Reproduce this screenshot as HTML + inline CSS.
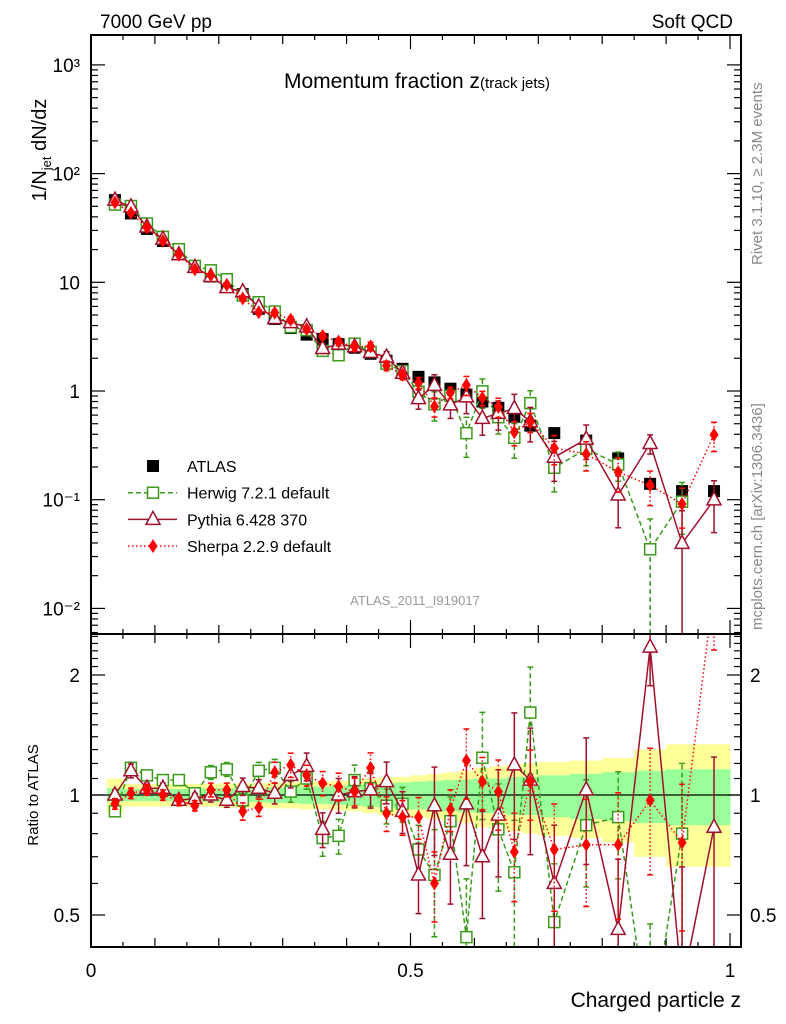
<!DOCTYPE html>
<html><head><meta charset="utf-8">
<style>
html,body{margin:0;padding:0;background:#fff;width:786px;height:1024px;overflow:hidden;}
svg{display:block;font-family:"Liberation Sans",sans-serif;}
</style></head>
<body>
<svg id="chart" width="786" height="1024" xmlns="http://www.w3.org/2000/svg">
  <text x="100" y="28" font-size="19">7000 GeV pp</text>
  <text x="733" y="28" font-size="19" text-anchor="end">Soft QCD</text>
  <text x="417" y="88" font-size="21" text-anchor="middle">Momentum fraction z<tspan font-size="15">(track jets)</tspan></text>
  <text x="415" y="605" font-size="13" fill="#999" text-anchor="middle">ATLAS_2011_I919017</text>
  <text transform="translate(46,150) rotate(-90)" font-size="20" text-anchor="middle">1/N<tspan font-size="13" dy="5">jet</tspan><tspan dy="-5"> dN/dz</tspan></text>
  <text transform="translate(38,795) rotate(-90)" font-size="15" text-anchor="middle">Ratio to ATLAS</text>
  <text x="741" y="1007" font-size="21" text-anchor="end">Charged particle z</text>
  <text transform="translate(762,265) rotate(-90)" font-size="15" fill="#888">Rivet 3.1.10, ≥ 2.3M events</text>
  <text transform="translate(762,630) rotate(-90)" font-size="15" fill="#888">mcplots.cern.ch [arXiv:1306.3436]</text>
  <g id="main"></g>
  <g id="ratio"></g>
  <g id="legend"></g>
</svg>
<script>
const binLo = [0.025,0.05,0.075,0.1,0.125,0.15,0.175,0.2,0.225,0.25,0.275,0.3,0.325,0.35,0.375,0.4,0.425,0.45,0.475,0.5,0.525,0.55,0.575,0.6,0.625,0.65,0.675,0.7,0.75,0.8,0.85,0.9,0.95];
const binHi = [0.05,0.075,0.1,0.125,0.15,0.175,0.2,0.225,0.25,0.275,0.3,0.325,0.35,0.375,0.4,0.425,0.45,0.475,0.5,0.525,0.55,0.575,0.6,0.625,0.65,0.675,0.7,0.75,0.8,0.85,0.9,0.95,1.0];
const atlas = [57,43,31,24,18.5,14,11.3,9.2,7.8,5.7,4.6,3.8,3.3,3.0,2.7,2.5,2.2,1.9,1.6,1.35,1.2,1.05,0.93,0.8,0.7,0.58,0.48,0.41,0.35,0.24,0.14,0.12,0.12];
const herwigRatio = [0.91,1.17,1.12,1.09,1.09,1.01,1.14,1.16,0.97,1.15,1.17,1.02,1.10,0.78,0.79,1.09,1.04,0.94,0.95,0.73,0.63,0.86,0.44,1.24,0.82,0.64,1.61,0.48,0.84,0.88,0.25,0.80,null];
const pythiaRatio = [1.0,1.15,1.04,1.04,0.97,0.98,1.0,0.97,1.05,1.04,1.01,1.12,1.18,0.82,1.0,1.02,1.03,1.08,0.91,0.63,0.94,0.71,0.95,0.70,0.89,1.19,1.09,0.60,1.03,0.46,2.35,0.33,0.83];
const sherpaRatio = [0.95,1.01,1.03,1.0,0.97,0.94,1.03,1.03,0.91,0.93,1.14,1.19,1.12,1.07,1.05,1.02,1.17,0.90,0.88,0.88,0.60,0.92,1.22,1.08,1.02,0.72,1.08,0.73,0.75,0.75,0.97,0.76,3.3];
const herwigErr = [0.03,0.03,0.03,0.03,0.03,0.03,0.04,0.04,0.04,0.05,0.05,0.06,0.06,0.1,0.1,0.09,0.1,0.1,0.1,0.15,0.3,0.15,0.4,0.3,0.3,0.35,0.3,0.4,0.3,0.3,0.9,0.5,0];
const pythiaErr = [0.03,0.04,0.03,0.03,0.03,0.03,0.04,0.04,0.05,0.05,0.06,0.07,0.08,0.1,0.1,0.09,0.1,0.12,0.12,0.2,0.25,0.25,0.3,0.3,0.3,0.35,0.35,0.4,0.35,0.5,0.2,1.0,0.5];
const sherpaErr = [0.03,0.03,0.03,0.03,0.03,0.03,0.04,0.04,0.05,0.05,0.06,0.07,0.06,0.07,0.08,0.08,0.09,0.1,0.1,0.12,0.2,0.12,0.2,0.15,0.2,0.25,0.2,0.3,0.3,0.35,0.35,0.4,0.3];
const bandGreen = [0.04,0.035,0.035,0.035,0.035,0.035,0.04,0.04,0.04,0.04,0.045,0.045,0.05,0.05,0.055,0.06,0.065,0.07,0.075,0.08,0.085,0.09,0.095,0.1,0.1,0.11,0.11,0.12,0.13,0.14,0.15,0.16,0.16];
const bandYellow = [0.1,0.065,0.065,0.065,0.065,0.065,0.065,0.07,0.07,0.07,0.075,0.075,0.08,0.08,0.085,0.09,0.1,0.11,0.11,0.12,0.13,0.14,0.15,0.17,0.18,0.19,0.2,0.21,0.22,0.24,0.3,0.34,0.34];
const mainTickLabels = ["10⁻²","10⁻¹","1","10","10²","10³"];
const mainTickValues = [0.01,0.1,1,10,100,1000];
const ratioTickValues = [0.5,1,2];
const xTickValues = [0,0.5,1];

const NS="http://www.w3.org/2000/svg";
const X0=91,X1=730,FR=741,MT=35,MB=634,RB=947;
const xs = z => X0+(X1-X0)*z;
const ym = v => 391-108.7*Math.log10(v);
const yr = r => 795-120*Math.log2(r);
const HC="#3a9a1a", PC="#a0102c", SC="#ff0000";

function mk(tag, parent, attrs){const e=document.createElementNS(NS,tag);for(const k in attrs)e.setAttribute(k,attrs[k]);parent.appendChild(e);return e;}
const svg=document.getElementById('chart');
const defs=mk('defs',svg,{});
const c1=mk('clipPath',defs,{id:'cm'});mk('rect',c1,{x:X0,y:MT,width:FR-X0,height:MB-MT});
const c2=mk('clipPath',defs,{id:'cr'});mk('rect',c2,{x:X0,y:MB,width:FR-X0,height:RB-MB});

const main=document.getElementById('main');
const ratio=document.getElementById('ratio');
const mg=mk('g',main,{'clip-path':'url(#cm)'});
const rg=mk('g',ratio,{'clip-path':'url(#cr)'});

for(let i=0;i<binLo.length;i++){
  const w=xs(binLo[i]), w2=xs(binHi[i]);
  const yb=mk('rect',rg,{x:w,y:yr(1+bandYellow[i]),width:w2-w+0.5,height:yr(1-bandYellow[i])-yr(1+bandYellow[i]),fill:'#ffff99'});
  
  
}
for(let i=0;i<binLo.length;i++){
  const w=xs(binLo[i]), w2=xs(binHi[i]);
  const gb=mk('rect',rg,{x:w,y:yr(1+bandGreen[i]),width:w2-w+0.5,height:yr(1-bandGreen[i])-yr(1+bandGreen[i]),fill:'#99ff99'});
  
  
}
mk('line',rg,{x1:X0,x2:FR,y1:yr(1),y2:yr(1),stroke:'#000','stroke-width':1.3});

function center(i){return (binLo[i]+binHi[i])/2;}
function marker(g,type,cx,cy,col,name){
  let e;
  if(type==='sq') e=mk('rect',g,{x:cx-5.5,y:cy-5.5,width:11,height:11,fill:'#fff',stroke:col,'stroke-width':1.5});
  else if(type==='tri') e=mk('polygon',g,{points:`${cx},${cy-8} ${cx-7},${cy+5} ${cx+7},${cy+5}`,fill:'#fff',stroke:col,'stroke-width':1.5});
  else if(type==='dia') e=mk('polygon',g,{points:`${cx},${cy-7} ${cx+4.5},${cy} ${cx},${cy+7} ${cx-4.5},${cy}`,fill:col});
  else e=mk('rect',g,{x:cx-6,y:cy-6,width:12,height:12,fill:'#000'});
  
  
}
function series(g, ratios, errs, col, dash, type, name, isRatio){
  const pts=[];
  const eg=mk('g',g,{});
  for(let i=0;i<ratios.length;i++){
    if(ratios[i]==null) continue;
    const cx=xs(center(i));
    const val=isRatio?ratios[i]:ratios[i]*atlas[i];
    const yf=isRatio?yr:ym;
    const cy=yf(val);
    const lo=Math.max(val*(1-errs[i]),1e-4), hi=val*(1+errs[i]);
    if(errs[i]>0){
      const l=mk('line',eg,{x1:cx,x2:cx,y1:yf(lo),y2:yf(hi),stroke:col,'stroke-width':1.5,'stroke-dasharray':dash});
      
      
      mk('line',eg,{x1:cx-3,x2:cx+3,y1:yf(lo),y2:yf(lo),stroke:col,'stroke-width':1.5});
      mk('line',eg,{x1:cx-3,x2:cx+3,y1:yf(hi),y2:yf(hi),stroke:col,'stroke-width':1.5});
    }
    pts.push([cx,cy]);
  }
  const pl=mk('polyline',g,{points:pts.map(p=>p.join(',')).join(' '),fill:'none',stroke:col,'stroke-width':1.5,'stroke-dasharray':dash});
  
  
  pts.forEach(p=>marker(g,type,p[0],p[1],col,name+'-point'));
}
for(let i=0;i<atlas.length;i++) marker(mg,'atlas',xs(center(i)),ym(atlas[i]),'#000','atlas-point');
series(mg,herwigRatio,herwigErr,HC,'5,3','sq','herwig',false);
series(mg,pythiaRatio,pythiaErr,PC,'','tri','pythia',false);
series(mg,sherpaRatio,sherpaErr,SC,'1.5,2.5','dia','sherpa',false);
series(rg,herwigRatio,herwigErr,HC,'5,3','sq','herwig-ratio',true);
series(rg,pythiaRatio,pythiaErr,PC,'','tri','pythia-ratio',true);
series(rg,sherpaRatio,sherpaErr,SC,'1.5,2.5','dia','sherpa-ratio',true);

const f1=mk('rect',main,{x:X0,y:MT,width:FR-X0,height:MB-MT,fill:'none',stroke:'#000','stroke-width':2});


const f2=mk('rect',ratio,{x:X0,y:MB,width:FR-X0,height:RB-MB,fill:'none',stroke:'#000','stroke-width':2});



for(let d=-3;d<=3;d++){
  for(let m=1;m<10;m++){
    const v=m*Math.pow(10,d); const y=ym(v);
    if(y<MT||y>MB) continue;
    const L=m===1?14:7;
    mk('line',main,{x1:X0,x2:X0+L,y1:y,y2:y,stroke:'#000','stroke-width':1.2});
    mk('line',main,{x1:FR,x2:FR-L,y1:y,y2:y,stroke:'#000','stroke-width':1.2});
  }
}
mainTickValues.forEach((v,i)=>{
  const t=mk('text',main,{x:80,y:ym(v)+7,'font-size':19,'text-anchor':'end'});
  t.textContent=mainTickLabels[i];
  
  
});
for(let r=0.4;r<=2.55;r+=0.1){
  const y=yr(r); if(y<MB||y>RB) continue;
  const major=Math.abs(r-0.5)<1e-6||Math.abs(r-1)<1e-6||Math.abs(r-2)<1e-6;
  const L=major?14:7;
  mk('line',ratio,{x1:X0,x2:X0+L,y1:y,y2:y,stroke:'#000','stroke-width':1.2});
  mk('line',ratio,{x1:FR,x2:FR-L,y1:y,y2:y,stroke:'#000','stroke-width':1.2});
}
ratioTickValues.forEach(v=>{
  const t=mk('text',ratio,{x:80,y:yr(v)+7,'font-size':19,'text-anchor':'end'});
  t.textContent=String(v);
  
  
  const t2=mk('text',ratio,{x:750,y:yr(v)+7,'font-size':19});
  t2.textContent=String(v);
  
  
});
for(let k=0;k<=20;k++){
  const z=k*0.05, x=xs(z);
  const L=(k%10===0)?14:(k%2===0?9:5);
  mk('line',ratio,{x1:x,x2:x,y1:RB,y2:RB-L,stroke:'#000','stroke-width':1.2});
  mk('line',ratio,{x1:x,x2:x,y1:MB,y2:MB+L,stroke:'#000','stroke-width':1.2});
  mk('line',main,{x1:x,x2:x,y1:MB,y2:MB-L,stroke:'#000','stroke-width':1.2});
  mk('line',main,{x1:x,x2:x,y1:MT,y2:MT+L,stroke:'#000','stroke-width':1.2});
}
xTickValues.forEach(v=>{
  const t=mk('text',ratio,{x:xs(v),y:977,'font-size':19,'text-anchor':'middle'});
  t.textContent=String(v);
  
  
});

const lg=document.getElementById('legend');
const entries=[['ATLAS','atlas','#000',''],['Herwig 7.2.1 default','sq',HC,'5,3'],['Pythia 6.428 370','tri',PC,''],['Sherpa 2.2.9 default','dia',SC,'1.5,2.5']];
entries.forEach((e,i)=>{
  const y=466+i*26.7;
  const g=mk('g',lg,{});
  
  
  if(i>0) mk('line',g,{x1:128,x2:177,y1:y,y2:y,stroke:e[2],'stroke-width':1.5,'stroke-dasharray':e[3]});
  marker(g,e[1],153,y,e[2],'legend-marker');
  const t=mk('text',g,{x:187,y:y+6,'font-size':16});
  t.textContent=e[0];
});
</script>
</body></html>
